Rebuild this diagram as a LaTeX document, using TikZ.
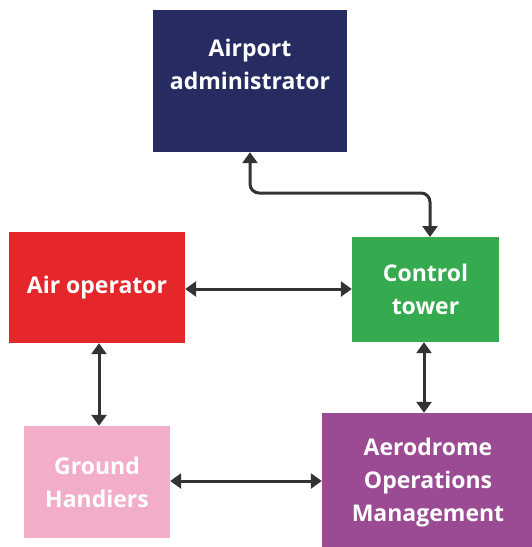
\documentclass[tikz,border=0pt]{standalone}
\usepackage{fontspec}
\setmainfont{Open Sans}
\usetikzlibrary{arrows.meta}
\definecolor{adminblue}{HTML}{262C62}
\definecolor{operred}{HTML}{E5262B}
\definecolor{towergreen}{HTML}{36AA4E}
\definecolor{groundpink}{HTML}{F2ADC8}
\definecolor{aeropurple}{HTML}{9A4B94}
\definecolor{linkgray}{HTML}{333333}
\begin{document}
\begin{tikzpicture}[x=1pt,y=-1pt,
        unitbox/.style={rectangle,inner sep=0pt,draw=none},
        unittext/.style={text=white,font=\bfseries\fontsize{23}{33}\selectfont,align=center},
        link/.style={draw=linkgray,line width=3pt,rounded corners=9pt,
                {Triangle[width=15pt,length=11pt]}-{Triangle[width=15pt,length=11pt]}}]
        \useasboundingbox (0,0) rectangle (531,547);
        % boxes
        \node[unitbox,fill=adminblue,minimum width=194pt,minimum height=142pt] (admin) at (250,81) {};
        \node[unittext] (admintext) at (250,64) {Airport\\administrator};
        \node[unitbox,unittext,fill=operred,minimum width=176pt,minimum height=111pt] (oper) at (97,287.5) {Air operator};
        \node[unitbox,unittext,fill=towergreen,minimum width=147pt,minimum height=105pt] (tower) at (425.5,289.5) {Control\\tower};
        \node[unitbox,unittext,fill=groundpink,minimum width=146pt,minimum height=112pt] (ground) at (97,482) {Ground\\Handiers};
        \node[unitbox,unittext,fill=aeropurple,minimum width=212pt,minimum height=140pt] (aero) at (428,483) {Aerodrome\\Operations\\Management};
        % links
        \draw[link] (admin.south) -- (250,193) -- (430,193) -- (430,237);
        \draw[link] (oper.east |- 0,289) -- (tower.west |- 0,289);
        \draw[link] (oper.south -| 99,0) -- (ground.north -| 99,0);
        \draw[link] (tower.south -| 424,0) -- (aero.north -| 424,0);
        \draw[link] (ground.east |- 0,481) -- (aero.west |- 0,481);
\end{tikzpicture}
\end{document}
